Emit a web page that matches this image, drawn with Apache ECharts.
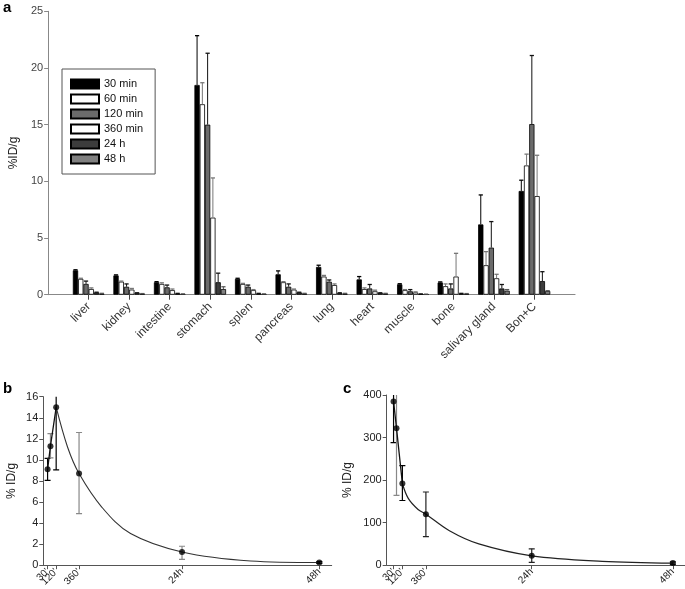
<!DOCTYPE html>
<html><head><meta charset="utf-8">
<script src="https://cdn.jsdelivr.net/npm/echarts@6/dist/echarts.min.js"></script>
<style>html,body{margin:0;padding:0;background:#fff}#c{width:685px;height:589px}</style>
</head><body><div id="c"></div>
<script>
// ---------- Panel a data ----------
const organs = ['liver','kidney','intestine','stomach','splen','pancreas','lung','heart','muscle','bone','salivary gland','Bon+C'];
const groups = ['30 min','60 min','120 min','360 min','24 h','48 h'];
const m30  = [2.15, 1.7, 1.1, 18.5, 1.4, 1.8, 2.45, 1.35, 0.92, 1.08, 6.2, 9.15];
const e30  = [0.05, 0.05, 0.05, 4.35, 0.05, 0.3, 0.15, 0.25, 0.05, 0.05, 2.6, 0.95];
const m60  = [1.4, 1.15, 0.95, 16.8, 0.95, 1.1, 1.6, 0.5, 0.4, 0.75, 2.6, 11.4];
const e60  = [0.05, 0.05, 0.1, 1.9, 0.05, 0.05, 0.1, 0.1, 0.05, 0.2, 1.2, 1.0];
const m120 = [0.95, 0.7, 0.65, 15.0, 0.7, 0.7, 1.15, 0.55, 0.3, 0.55, 4.15, 15.05];
const e120 = [0.25, 0.25, 0.2, 6.3, 0.15, 0.25, 0.15, 0.35, 0.15, 0.4, 2.3, 6.05];
const m360 = [0.5, 0.45, 0.4, 6.8, 0.4, 0.45, 0.85, 0.3, 0.2, 1.6, 1.45, 8.7];
const e360 = [0.1, 0.1, 0.1, 3.5, 0.05, 0.05, 0.1, 0.1, 0.05, 2.05, 0.35, 3.6];
const m24h = [0.2, 0.15, 0.1, 1.1, 0.1, 0.2, 0.15, 0.15, 0.05, 0.1, 0.55, 1.2];
const e24h = [0.02, 0.02, 0.02, 0.8, 0.02, 0.02, 0.02, 0.02, 0.02, 0.02, 0.35, 0.83];
const m48h = [0.1, 0.08, 0.05, 0.5, 0.05, 0.1, 0.1, 0.1, 0.03, 0.08, 0.35, 0.33];
const e48h = [0.02, 0.02, 0.02, 0.2, 0.02, 0.02, 0.02, 0.02, 0.02, 0.02, 0.1, 0.02];

// ---------- Panels b and c data ----------
const times = [30, 60, 120, 360, 1440, 2880];
const timeTickLabels = {30: "30'", 120: "120'", 360: "360'", 1440: "24h", 2880: "48h"};
const mainTickTimes = [30, 360, 1440, 2880];
const extraTickTimes = [120];
const bMean = [9.1, 11.3, 15.0, 8.7, 1.25, 0.25];
const bLow  = [8.05, 10.2, 9.05, 4.9, 0.56, 0.18];
const bHigh = [10.15, 12.5, 21.1, 12.6, 1.8, 0.34];
const bCurveT = [120, 240, 360, 600, 900, 1440, 2160, 2880];
const bCurveV = [15.0, 11.2, 8.7, 5.5, 3.0, 1.25, 0.4, 0.25];
const cMean = [385, 322, 192, 120, 22, 5];
const cLow  = [288, 164, 152, 67, 6.5, 2];
const cHigh = [480, 480, 234, 172, 38.5, 8];
const cCurveT = [120, 180, 280, 360, 600, 900, 1440, 2160, 2880];
const cCurveV = [192, 157, 131, 120, 81, 50, 22, 9.2, 5];

// ---------- styling ----------
const FONT = 'Liberation Sans, Arial, Helvetica, sans-serif';
const barFill   = ['#000000', '#ffffff', '#6b6b6b', '#ffffff', '#3c3c3c', '#808080'];
const errColA   = ['#000000', '#777777', '#111111', '#777777', '#111111', '#555555'];
const errColB   = ['#000000', '#888888', '#000000', '#888888', '#888888', '#000000'];
const errColC   = ['#000000', '#888888', '#000000', '#222222', '#222222', '#222222'];
const BAR_FRAC = 0.13;

const means = [m30, m60, m120, m360, m24h, m48h];
const errs  = [e30, e60, e120, e360, e24h, e48h];
const catAxisData = [''].concat(organs, ['']);

const chart = echarts.init(document.getElementById('c'), null, {renderer: 'canvas'});

function barErrRender(i) {
  return function (params, api) {
    const idx = api.value(0), m = api.value(1), e = api.value(2);
    const base = api.coord([idx, m]);
    const top = api.coord([idx, m + e]);
    const bw = api.size([1, 0])[0] * BAR_FRAC;
    const x = base[0] + (i - 2.5) * bw;
    const cap = bw * 0.4;
    const col = errColA[i];
    return {type: 'group', children: [
      {type: 'line', shape: {x1: x, y1: base[1], x2: x, y2: top[1]}, style: {stroke: col, lineWidth: 1}},
      {type: 'line', shape: {x1: x - cap, y1: top[1], x2: x + cap, y2: top[1]}, style: {stroke: col, lineWidth: 1.3}}
    ]};
  };
}

function ptErrRender(colors, capHalf) {
  return function (params, api) {
    const t = api.value(0), lo = api.value(1), hi = api.value(2);
    const p1 = api.coord([t, lo]);
    const p2 = api.coord([t, hi]);
    const col = colors[params.dataIndex];
    return {type: 'group', children: [
      {type: 'line', shape: {x1: p1[0], y1: p1[1], x2: p2[0], y2: p2[1]}, style: {stroke: col, lineWidth: 1.2}},
      {type: 'line', shape: {x1: p1[0] - capHalf, y1: p1[1], x2: p1[0] + capHalf, y2: p1[1]}, style: {stroke: col, lineWidth: 1.2}},
      {type: 'line', shape: {x1: p2[0] - capHalf, y1: p2[1], x2: p2[0] + capHalf, y2: p2[1]}, style: {stroke: col, lineWidth: 1.2}}
    ]};
  };
}

const series = [];
groups.forEach(function (g, i) {
  series.push({
    name: g, type: 'bar', xAxisIndex: 0, yAxisIndex: 0,
    barWidth: (BAR_FRAC * 100) + '%', barGap: '0%',
    itemStyle: {color: barFill[i], borderColor: '#000', borderWidth: 0.8},
    data: means[i].map(function (v, k) { return [k + 1, v]; }),
    animation: false
  });
});
groups.forEach(function (g, i) {
  series.push({
    type: 'custom', xAxisIndex: 0, yAxisIndex: 0,
    renderItem: barErrRender(i),
    encode: {x: 0, y: 1},
    data: means[i].map(function (v, k) { return [k + 1, v, errs[i][k]]; }),
    z: 3, animation: false, silent: true
  });
});

// panel b
series.push({
  type: 'custom', xAxisIndex: 1, yAxisIndex: 1, clip: true,
  renderItem: ptErrRender(errColB, 3),
  encode: {x: 0, y: [1, 2]},
  data: times.map(function (t, k) { return [t, bLow[k], bHigh[k]]; }),
  animation: false, silent: true
});
series.push({
  type: 'line', xAxisIndex: 1, yAxisIndex: 1, showSymbol: false, smooth: false,
  lineStyle: {color: '#111', width: 1.3},
  data: times.slice(0, 3).map(function (t, k) { return [t, bMean[k]]; }),
  animation: false, silent: true
});
series.push({
  type: 'line', xAxisIndex: 1, yAxisIndex: 1, showSymbol: false, smooth: 0.35,
  lineStyle: {color: '#333', width: 1.1},
  data: bCurveT.map(function (t, k) { return [t, bCurveV[k]]; }),
  animation: false, silent: true
});
series.push({
  type: 'scatter', xAxisIndex: 1, yAxisIndex: 1, symbol: 'circle', symbolSize: 6,
  itemStyle: {color: '#000'},
  data: times.map(function (t, k) { return [t, bMean[k]]; }),
  z: 5, animation: false, silent: true
});

// panel c
series.push({
  type: 'custom', xAxisIndex: 2, yAxisIndex: 2, clip: true,
  renderItem: ptErrRender(errColC, 3),
  encode: {x: 0, y: [1, 2]},
  data: times.map(function (t, k) { return [t, cLow[k], cHigh[k]]; }),
  animation: false, silent: true
});
series.push({
  type: 'line', xAxisIndex: 2, yAxisIndex: 2, showSymbol: false, smooth: false,
  lineStyle: {color: '#111', width: 1.3},
  data: times.slice(0, 3).map(function (t, k) { return [t, cMean[k]]; }),
  animation: false, silent: true
});
series.push({
  type: 'line', xAxisIndex: 2, yAxisIndex: 2, showSymbol: false, smooth: 0.35,
  lineStyle: {color: '#222', width: 1.2},
  data: cCurveT.map(function (t, k) { return [t, cCurveV[k]]; }),
  animation: false, silent: true
});
series.push({
  type: 'scatter', xAxisIndex: 2, yAxisIndex: 2, symbol: 'circle', symbolSize: 6,
  itemStyle: {color: '#000'},
  data: times.map(function (t, k) { return [t, cMean[k]]; }),
  z: 5, animation: false, silent: true
});

function timeAxis(gridIndex, min, max, tickTimes, showLine) {
  return {
    type: 'value', gridIndex: gridIndex, min: min, max: max, position: 'bottom', offset: 0,
    splitLine: {show: false},
    axisLine: {show: showLine, onZero: false, lineStyle: {color: '#555', width: 1}},
    axisTick: {show: true, customValues: tickTimes, length: 4, lineStyle: {color: '#555'}},
    axisLabel: {
      customValues: tickTimes, rotate: 45, fontSize: 10, color: '#222', fontFamily: FONT, margin: 5,
      hideOverlap: false,
      formatter: function (v) { return timeTickLabels[v] || ''; }
    }
  };
}
function valAxis(gridIndex, max, interval, name, nameGap, color) {
  return {
    type: 'value', gridIndex: gridIndex, min: 0, max: max, interval: interval,
    name: name, nameLocation: 'middle', nameGap: nameGap, nameRotate: 90,
    nameTextStyle: {fontSize: 12, color: '#222', fontFamily: FONT},
    splitLine: {show: false},
    axisLine: {show: true, onZero: false, lineStyle: {color: color, width: 1}},
    axisTick: {show: true, length: 4, lineStyle: {color: color}},
    axisLabel: {fontSize: 11, color: '#222', fontFamily: FONT, margin: 5}
  };
}

const option = {
  animation: false,
  backgroundColor: '#fff',
  textStyle: {fontFamily: FONT},
  graphic: [
    {type: 'text', left: 3, top: 0, style: {text: 'a', font: 'bold 15px ' + FONT, fill: '#000'}},
    {type: 'text', left: 3, top: 381, style: {text: 'b', font: 'bold 15px ' + FONT, fill: '#000'}},
    {type: 'text', left: 343, top: 381, style: {text: 'c', font: 'bold 15px ' + FONT, fill: '#000'}}
  ],
  legend: {
    data: groups, orient: 'vertical', left: 62, top: 69,
    itemWidth: 28, itemHeight: 9, itemGap: 4, icon: 'rect',
    padding: [9.5, 12, 9.5, 8], borderColor: '#555', borderWidth: 1,
    selectedMode: false,
    textStyle: {fontSize: 11, color: '#111', fontFamily: FONT}
  },
  grid: [
    {left: 40, top: 11.3, right: 110, bottom: 294.3},
    {left: 43.3, top: 396.7, width: 288.4, bottom: 21.3},
    {left: 386.7, top: 395, right: 0, bottom: 21.3}
  ],
  xAxis: [
    {
      type: 'category', gridIndex: 0, data: catAxisData, boundaryGap: false,
      axisLine: {show: true, onZero: false, lineStyle: {color: '#888', width: 1.2}},
      axisTick: {show: true, length: 5, interval: function (i, v) { return v !== ''; }, lineStyle: {color: '#444'}},
      axisLabel: {interval: 0, rotate: 45, fontSize: 12, color: '#333', fontFamily: FONT, margin: 10},
      splitLine: {show: false}
    },
    timeAxis(1, -15, 3010, mainTickTimes, true),
    timeAxis(2, -40, 3004, mainTickTimes, true),
    timeAxis(1, -15, 3010, extraTickTimes, false),
    timeAxis(2, -40, 3004, extraTickTimes, false)
  ],
  yAxis: [
    (function () {
      const a = valAxis(0, 25, 5, '%ID/g', 24, '#888');
      a.axisLabel.color = '#444';
      return a;
    })(),
    valAxis(1, 16, 2, '% ID/g', 26, '#555'),
    valAxis(2, 400, 100, '% ID/g', 33, '#555')
  ],
  series: series
};
chart.setOption(option);
</script>
</body></html>
